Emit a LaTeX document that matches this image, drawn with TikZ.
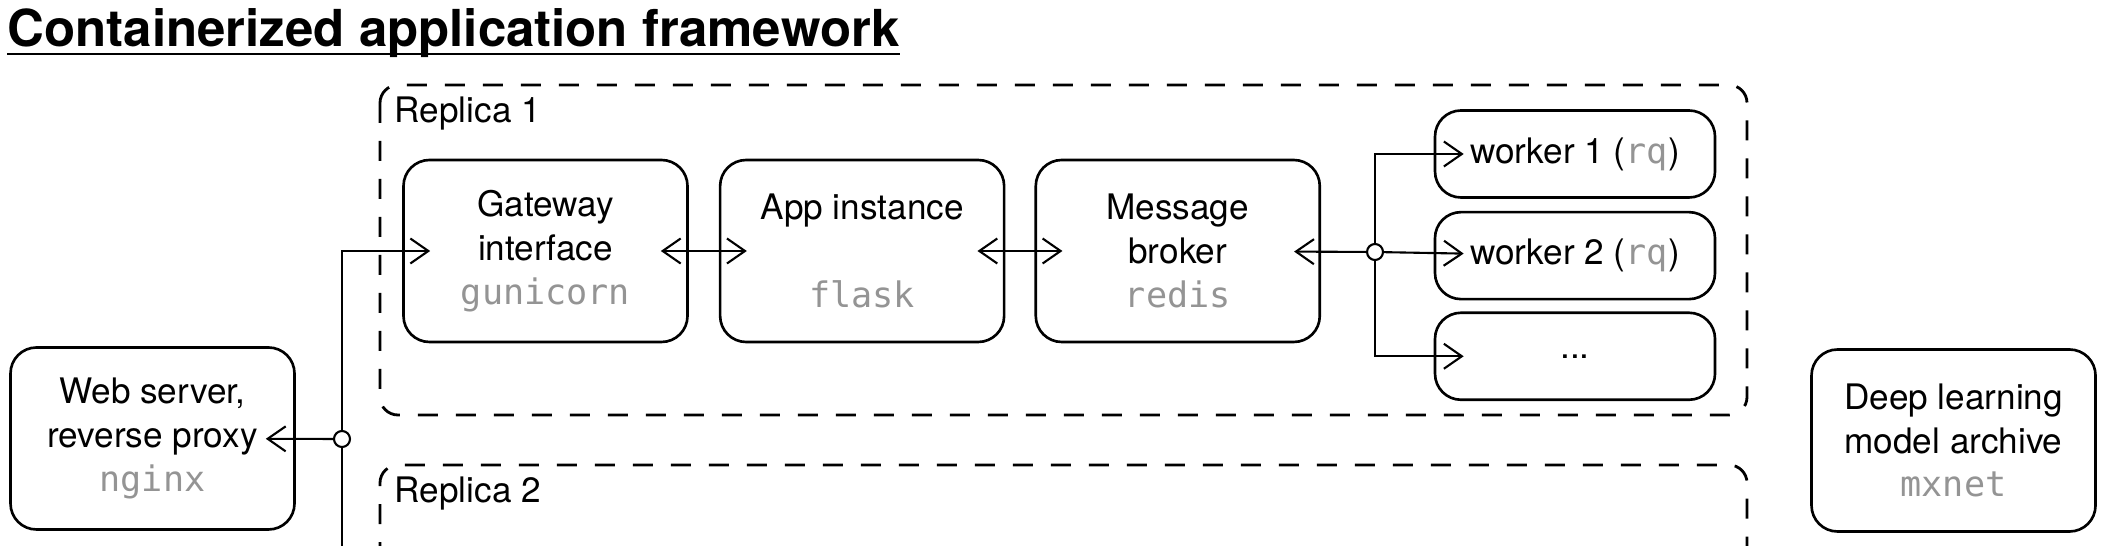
\documentclass[tikz,border=0pt]{standalone}
\usepackage{fontspec}
\setmainfont{TeX Gyre Heros}
\setmonofont{DejaVu Sans Mono}
\usetikzlibrary{shapes,positioning,arrows.meta,calc}

\definecolor{codegray}{gray}{0.58}
\newcommand{\pkg}[1]{{\ttfamily\color{codegray}#1}}

\tikzset{
  box/.style={draw, line width=0.75pt, rounded corners=2.6mm,
    minimum width=28.4mm, minimum height=18.2mm, align=center,
    inner sep=0pt, font=\fontsize{10}{12.5}\selectfont},
  workerbox/.style={box, minimum width=28mm, minimum height=8.7mm},
  replica/.style={draw, dash pattern=on 2mm off 1.8mm, line width=0.8pt,
    rounded corners=1.8mm},
  link/.style={-{Straight Barb[length=1.8mm,width=2.5mm]}, line width=0.6pt},
  both/.style={{Straight Barb[length=1.8mm,width=2.5mm]}-{Straight Barb[length=1.8mm,width=2.5mm]},
    line width=0.6pt},
  joint/.style={circle, draw, fill=white, line width=0.6pt, inner sep=0pt,
    minimum size=1.6mm},
  label/.style={anchor=base west, inner sep=0pt, font=\fontsize{10}{12}\selectfont},
}

\begin{document}
\begin{tikzpicture}[x=0.1mm,y=-0.1mm]
  \useasboundingbox (0,0) rectangle (2112,546);

  % title
  \node[anchor=base west, inner sep=0pt, font=\bfseries\fontsize{14.5}{17}\selectfont]
    (title) at (7,47) {Containerized application framework};
  \draw[line width=0.7pt] ($(title.base west)+(0,7)$) -- ($(title.base east)+(0,7)$);

  % replicas
  \draw[replica] (380,85) rectangle (1747,415);
  \node[label] (rep1) at (394,123) {Replica 1};
  \draw[replica] (380,600) -- (380,465) -- (1747,465) -- (1747,600);
  \node[label] (rep2) at (394,502) {Replica 2};

  % boxes of replica 1
  \node[box] (gw) at (545.5,251) {Gateway\\interface\\\pkg{gunicorn}};
  \node[box] (app) [right=3mm of gw] {App instance\\~\\\pkg{flask}};
  \node[box] (broker) [right=2.9mm of app] {Message\\broker\\\pkg{redis}};
  \node[workerbox] (w1) at (1575,154) {worker 1 (\pkg{rq})};
  \node[workerbox] (w2) [below=1.2mm of w1] {worker 2 (\pkg{rq})};
  \node[workerbox] (wmore) [below=1.1mm of w2] {...};

  % outside
  \node[box] (web) at (152.5,438.5) {Web server,\\reverse proxy\\\pkg{nginx}};
  \node[box] (model) at (1953.5,440.5) {Deep learning\\model archive\\\pkg{mxnet}};

  % connectors
  \node[joint] (split) at (1375,252) {};
  \node[joint] (join) at (342,439) {};
  \coordinate (down) at (342,600);

  \draw[line width=0.6pt] (down) -- (join);
  \draw[link, shorten >=-2.8mm] (join) |- (gw);
  \draw[link, shorten >=-3mm] (join) -- (web);
  \draw[both, shorten <=-2.8mm, shorten >=-2.8mm] (gw) -- (app);
  \draw[both, shorten <=-2.8mm, shorten >=-2.8mm] (app) -- (broker);
  \draw[link, shorten >=-2.7mm] (split) -- (broker);
  \draw[link, shorten >=-3mm] (split) |- (w1);
  \draw[link, shorten >=-3mm] (split) -- (w2);
  \draw[link, shorten >=-3mm] (split) |- (wmore);
\end{tikzpicture}
\end{document}
